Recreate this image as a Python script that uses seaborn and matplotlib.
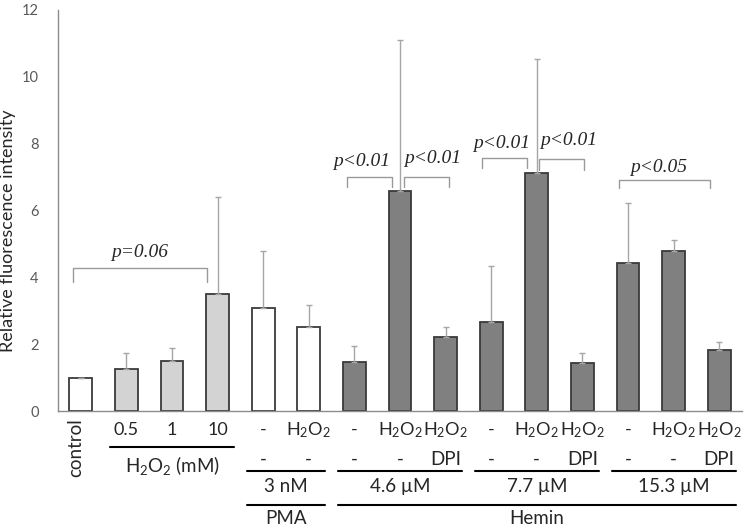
import numpy as np
import matplotlib
matplotlib.use('Agg')
import matplotlib.pyplot as plt
import matplotlib.transforms as mtransforms
import seaborn as sns

# bar data
bar_ids = ['control', 'h0.5', 'h1', 'h10', 'pma', 'pma_h',
           'hm46', 'hm46_h', 'hm46_hd', 'hm77', 'hm77_h', 'hm77_hd',
           'hm153', 'hm153_h', 'hm153_hd']
values = [1.0, 1.27, 1.5, 3.5, 3.07, 2.5,
          1.46, 6.59, 2.2, 2.66, 7.11, 1.44,
          4.42, 4.78, 1.82]
err_top = [1.0, 1.75, 1.88, 6.4, 4.78, 3.18,
           1.95, 11.1, 2.5, 4.33, 10.53, 1.73,
           6.22, 5.13, 2.07]
bar_colors = ['white', '#d3d3d3', '#d3d3d3', '#d3d3d3', 'white', 'white'] + ['#808080'] * 9

H2O2 = r'H$_2$O$_2$'
row1 = ['', '0.5', '1', '10', '-', H2O2, '-', H2O2, H2O2, '-', H2O2, H2O2, '-', H2O2, H2O2]
row2 = ['', '', '', '', '-', '-', '-', '-', 'DPI', '-', '-', 'DPI', '-', '-', 'DPI']

# group labels: (first bar, last bar, label)
conc_groups = [(1, 3, H2O2 + ' (mM)'), (4, 5, '3 nM'), (6, 8, '4.6 µM'),
               (9, 11, '7.7 µM'), (12, 14, '15.3 µM')]
agent_groups = [(4, 5, 'PMA'), (6, 14, 'Hemin')]

# significance brackets: x0, x1, top, leg bottom, label, text x, text y
brackets = [(-0.17, 2.77, 4.28, 3.86, 'p=0.06', 1.3, 4.73),
            (5.84, 6.82, 7.01, 6.71, 'p<0.01', 6.17, 7.46),
            (7.09, 8.07, 7.01, 6.71, 'p<0.01', 7.72, 7.57),
            (8.80, 9.79, 7.58, 7.27, 'p<0.01', 9.24, 8.0),
            (10.05, 11.04, 7.53, 7.20, 'p<0.01', 10.7, 8.08),
            (11.80, 13.80, 6.90, 6.67, 'p<0.05', 12.68, 7.29)]

sns.set_style('white')
plt.rcParams['font.family'] = ['Lato', 'DejaVu Sans']
plt.rcParams['mathtext.fontset'] = 'custom'
plt.rcParams['mathtext.rm'] = 'Lato'
plt.rcParams['mathtext.it'] = 'Lato:italic'

fig = plt.figure(figsize=(7.5, 5.26), dpi=100)
ax = fig.add_axes([0.0773, 0.2186, 0.912, 0.7624])

sns.barplot(x=bar_ids, y=values, hue=bar_ids, palette=bar_colors, legend=False,
            width=0.5, edgecolor='#3a3a3a', linewidth=1.3, ax=ax)

xs = np.arange(len(bar_ids))
upper = np.array(err_top) - np.array(values)
ax.errorbar(xs, values, yerr=[np.zeros(len(xs)), upper], fmt='none',
            ecolor='#a6a6a6', elinewidth=1, capsize=2.5, capthick=1, zorder=1)

ax.set_xlim(-0.5, 14.5)
ax.set_ylim(0, 12)
ax.set_yticks(range(0, 13, 2))
ax.tick_params(axis='y', length=0, labelsize=10.5, labelcolor='#595959', pad=14)
ax.set_xticks([])
ax.set_xlabel('')
ax.set_ylabel('Relative fluorescence intensity', fontsize=13)
ax.yaxis.set_label_coords(-0.062, 0.449)
for side in ['top', 'right']:
    ax.spines[side].set_visible(False)
for side in ['left', 'bottom']:
    ax.spines[side].set_color('#8c8c8c')
    ax.spines[side].set_linewidth(1)

# brackets
for x0, x1, top, bot, lab, tx, ty in brackets:
    ax.plot([x0, x0, x1, x1], [bot, top, top, bot], color='#9a9a9a', lw=1)
    ax.text(tx, ty, lab, ha='center', va='center', fontsize=14,
            family='Liberation Serif', style='italic')

# category labels below the axis
trans = mtransforms.blended_transform_factory(ax.transData, ax.transAxes)
ax.text(-0.11, -0.018, 'control', rotation=90, ha='center', va='top',
        fontsize=13.5, transform=trans, clip_on=False)
for i, lab in enumerate(row1):
    if lab:
        ax.text(i, -0.047, lab, ha='center', va='center', fontsize=13,
                transform=trans, clip_on=False)
for i, lab in enumerate(row2):
    if lab:
        ax.text(i, -0.12, lab, ha='center', va='center', fontsize=13.5,
                transform=trans, clip_on=False)

for a, b, lab in conc_groups:
    if a == 1:
        ly, ty = -0.089, -0.135
    else:
        ly, ty = -0.149, -0.187
    ax.plot([a - 0.36, b + 0.36], [ly, ly], color='black', lw=1.5,
            transform=trans, clip_on=False)
    ax.text((a + b) / 2, ty, lab, ha='center', va='center', fontsize=13.5,
            transform=trans, clip_on=False)

for a, b, lab in agent_groups:
    ax.plot([a - 0.36, b + 0.36], [-0.234, -0.234], color='black', lw=1.5,
            transform=trans, clip_on=False)
    ax.text((a + b) / 2, -0.268, lab, ha='center', va='center', fontsize=13.5,
            transform=trans, clip_on=False)

plt.savefig('out.png', dpi=100)
